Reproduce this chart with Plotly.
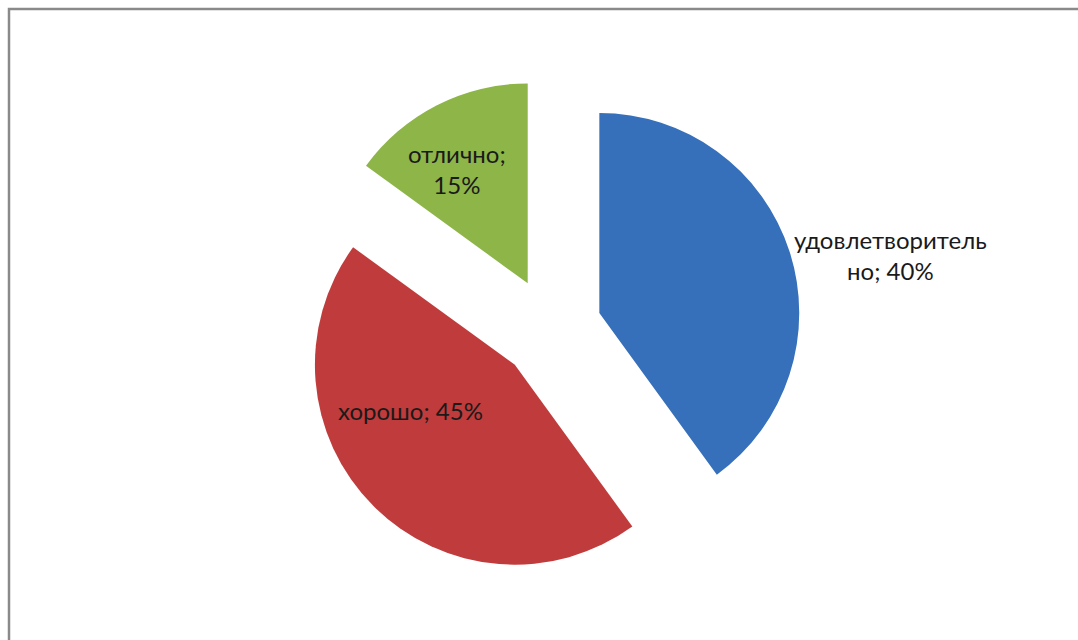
import plotly.graph_objects as go

labels = ["удовлетворительно", "хорошо", "отлично"]
values = [40, 45, 15]
label_texts = ["удовлетворитель<br>но; 40%", "хорошо; 45%", "отлично;<br>15%"]
colors = ["#3670ba", "#c03b3b", "#8db548"]

W, H = 1078, 640

fig = go.Figure(go.Pie(
    labels=labels,
    values=values,
    sort=False,
    direction="clockwise",
    rotation=0,
    pull=[0.255, 0.255, 0.255],
    textinfo="none",
    hoverinfo="label+percent",
    marker=dict(colors=colors, line=dict(width=0)),
    showlegend=False,
    domain=dict(x=[0.2, 0.822], y=[0.0944, 0.8784]),
))

# label positions (pixels) -> paper
label_pos = [(890, 255), (410, 410), (457, 169)]
for t, (px, py) in zip(label_texts, label_pos):
    fig.add_annotation(
        x=px / W, y=1 - py / H, xref="paper", yref="paper",
        text=t, showarrow=False, align="center",
        xanchor="center", yanchor="middle",
        font=dict(family="Lato, Open Sans, sans-serif", size=24, color="#1a1a1a"),
    )

# frame
fig.add_shape(type="rect", xref="paper", yref="paper",
              x0=9 / W, x1=1.02, y0=-0.02, y1=1 - 9 / H,
              line=dict(color="#8a8a8a", width=2.5), fillcolor="rgba(0,0,0,0)")

fig.update_layout(
    width=W, height=H,
    margin=dict(l=0, r=0, t=0, b=0),
    paper_bgcolor="white", plot_bgcolor="white",
)

fig.write_html("out.html")
